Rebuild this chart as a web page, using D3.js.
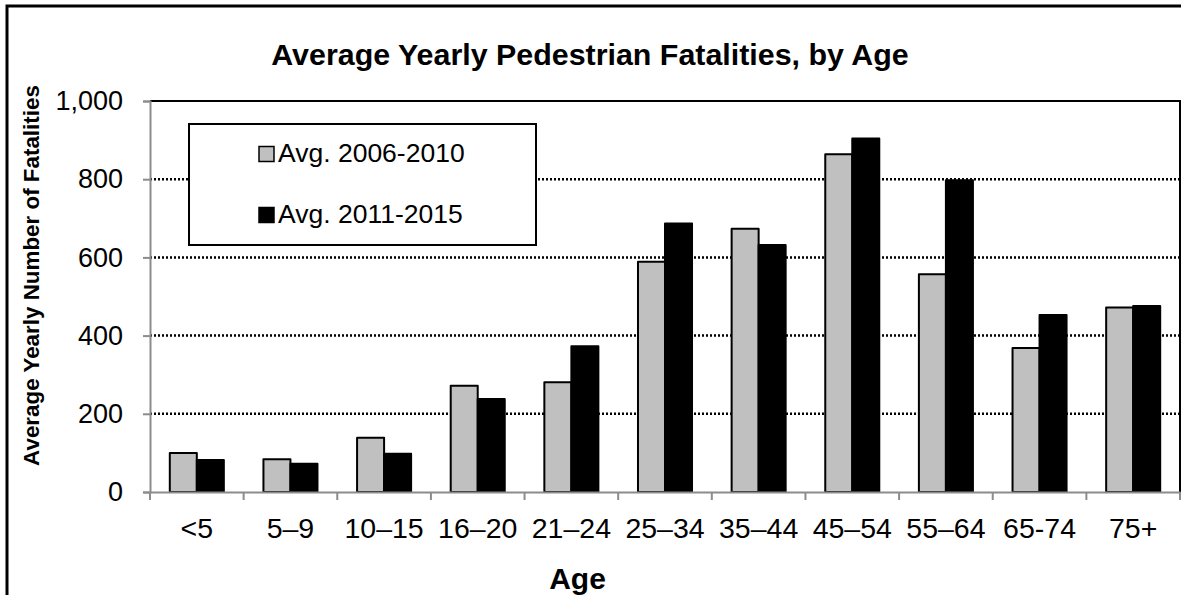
<!DOCTYPE html>
<html>
<head>
<meta charset="utf-8">
<script src="https://cdn.jsdelivr.net/npm/d3@7"></script>
<style>
  html, body { margin: 0; padding: 0; background: #fff; }
  svg { display: block; font-family: "Liberation Sans", Arial, sans-serif; }
</style>
</head>
<body>
<svg id="chart" width="1181" height="595"></svg>
<script>
const categories = ["<5", "5–9", "10–15", "16–20", "21–24", "25–34", "35–44", "45–54", "55–64", "65-74", "75+"];
const seriesNames = ["Avg. 2006-2010", "Avg. 2011-2015"];
const avg2006_2010 = [100, 84, 139, 272, 281, 589, 673, 864, 557, 368, 472];
const avg2011_2015 = [82, 72, 98, 238, 373, 687, 632, 904, 797, 453, 476];
const yTicks = [0, 200, 400, 600, 800, 1000];
const colors = ["#c0c0c0", "#000000"];

const svg = d3.select("#chart");
const W = 1181, H = 595;
const m = { left: 150, right: 1180, top: 101, bottom: 492 };

// outer border
svg.append("rect").attr("x", 7).attr("y", 6).attr("width", W + 10).attr("height", H + 10)
  .attr("fill", "none").attr("stroke", "#000").attr("stroke-width", 3);

const x0 = d3.scaleBand().domain(categories).range([m.left, m.right]).paddingInner(0.423).paddingOuter(0.2115);
const x1 = d3.scaleBand().domain(seriesNames).range([0, x0.bandwidth()]);
const y = d3.scaleLinear().domain([0, 1000]).range([m.bottom, m.top]);

// gridlines
svg.append("g").selectAll("line").data(yTicks.filter(t => t > 0 && t < 1000)).join("line")
  .attr("x1", m.left).attr("x2", m.right)
  .attr("y1", d => y(d)).attr("y2", d => y(d))
  .attr("stroke", "#000").attr("stroke-width", 2.5).attr("stroke-dasharray", "2,2");

// plot border top and right
svg.append("path")
  .attr("d", `M${m.left},${y(1000)}H${m.right}V${m.bottom}`)
  .attr("fill", "none").attr("stroke", "#000").attr("stroke-width", 2);

// bars
const data = categories.map((c, i) => ({ c, vals: [avg2006_2010[i], avg2011_2015[i]] }));
const groups = svg.append("g").selectAll("g").data(data).join("g")
  .attr("transform", d => `translate(${x0(d.c)},0)`);
groups.selectAll("rect").data(d => d.vals.map((v, k) => ({ v, k }))).join("rect")
  .attr("x", d => x1(seriesNames[d.k]))
  .attr("y", d => y(d.v))
  .attr("width", x1.bandwidth())
  .attr("height", d => y(0) - y(d.v))
  .attr("fill", d => colors[d.k])
  .attr("stroke", "#000").attr("stroke-width", 2).attr("stroke-linejoin", "round");

// y axis
const yAxis = d3.axisLeft(y).tickValues(yTicks).tickSize(7).tickPadding(20)
  .tickFormat(d3.format(","));
const gy = svg.append("g").attr("transform", `translate(${m.left},0)`).call(yAxis);
gy.select(".domain").attr("stroke", "#8c8c8c").attr("stroke-width", 2);
gy.selectAll(".tick line").attr("stroke", "#8c8c8c").attr("stroke-width", 2);
gy.selectAll(".tick text").attr("font-size", 27).attr("fill", "#000")
  .attr("font-family", "Liberation Sans, Arial, sans-serif");

// x axis
const xAxis = d3.axisBottom(x0).tickSize(0).tickPadding(26);
const gx = svg.append("g").attr("transform", `translate(0,${m.bottom})`).call(xAxis);
gx.select(".domain").attr("stroke", "#8c8c8c").attr("stroke-width", 2);
gx.selectAll(".tick text").attr("font-size", 28.5).attr("fill", "#000")
  .attr("font-family", "Liberation Sans, Arial, sans-serif");
// boundary ticks
const step = x0.step();
const bounds = categories.map(c => x0(c) - x0.paddingOuter() * step);
bounds.push(m.right);
gx.append("g").selectAll("line").data(bounds).join("line")
  .attr("x1", d => d).attr("x2", d => d).attr("y1", 0).attr("y2", 8)
  .attr("stroke", "#8c8c8c").attr("stroke-width", 2);

// title
svg.append("text").attr("x", 590).attr("y", 65).attr("text-anchor", "middle")
  .attr("font-size", 30.4).attr("font-weight", "bold").text("Average Yearly Pedestrian Fatalities, by Age");

// y title
svg.append("text").attr("transform", "translate(39,275.5) rotate(-90)").attr("text-anchor", "middle")
  .attr("font-size", 22.4).attr("font-weight", "bold").text("Average Yearly Number of Fatalities");

// x title
svg.append("text").attr("x", 577.5).attr("y", 589).attr("text-anchor", "middle")
  .attr("font-size", 30).attr("font-weight", "bold").text("Age");

// legend
const lg = svg.append("g");
lg.append("rect").attr("x", 189).attr("y", 124).attr("width", 347).attr("height", 121)
  .attr("fill", "#fff").attr("stroke", "#000").attr("stroke-width", 2);
const lgRows = [162, 223];
seriesNames.forEach((s, k) => {
  lg.append("rect").attr("x", 259).attr("y", lgRows[k] - 15.5).attr("width", 15).attr("height", 15)
    .attr("fill", colors[k]).attr("stroke", "#000").attr("stroke-width", 1.5);
  lg.append("text").attr("x", 278).attr("y", lgRows[k]).attr("font-size", 26.5).text(s);
});
</script>
</body>
</html>
